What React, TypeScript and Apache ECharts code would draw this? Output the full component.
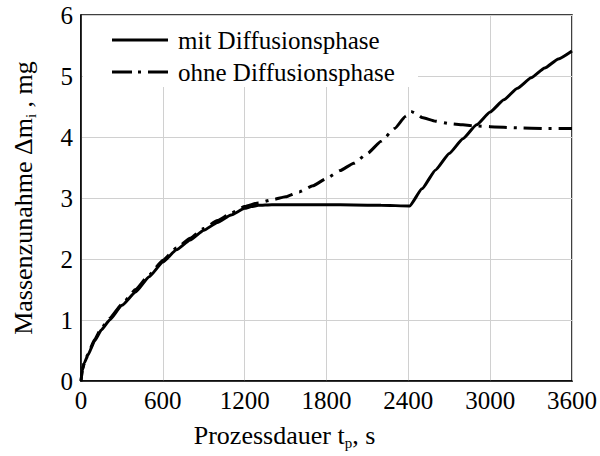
import React, { useEffect, useRef } from "react";
import * as echarts from "echarts";

const xTicks = [0, 600, 1200, 1800, 2400, 3000, 3600];
const yTicks = [0, 1, 2, 3, 4, 5, 6];

const seriesNames = ["mit Diffusionsphase", "ohne Diffusionsphase"];

const timeMit = [0, 10, 25, 50, 100, 150, 210, 300, 400, 500, 600, 700, 800, 900, 1000, 1100, 1200, 1250, 1300, 1400, 1600, 1800, 2000, 2200, 2410, 2500, 2600, 2700, 2800, 2900, 3000, 3100, 3200, 3300, 3400, 3500, 3600];
const massMit = [0, 0.18, 0.3, 0.42, 0.66, 0.84, 1.0, 1.24, 1.46, 1.71, 1.95, 2.15, 2.31, 2.47, 2.6, 2.72, 2.83, 2.86, 2.88, 2.89, 2.89, 2.89, 2.885, 2.88, 2.87, 3.15, 3.46, 3.73, 3.97, 4.2, 4.41, 4.61, 4.8, 4.97, 5.13, 5.28, 5.41];

const timeOhne = [0, 10, 25, 50, 100, 150, 210, 300, 400, 500, 600, 700, 800, 900, 1000, 1100, 1200, 1300, 1400, 1500, 1600, 1700, 1800, 1900, 2000, 2100, 2200, 2300, 2380, 2420, 2460, 2500, 2600, 2700, 2800, 2900, 3000, 3200, 3400, 3600];
const massOhne = [0, 0.19, 0.31, 0.44, 0.68, 0.87, 1.03, 1.26, 1.5, 1.74, 1.98, 2.18, 2.34, 2.5, 2.63, 2.75, 2.86, 2.92, 2.97, 3.02, 3.1, 3.2, 3.32, 3.45, 3.57, 3.73, 3.93, 4.14, 4.34, 4.42, 4.38, 4.32, 4.26, 4.22, 4.2, 4.18, 4.17, 4.15, 4.14, 4.14];

const FONT = "Liberation Serif";
const DASH = [18, 7, 3, 7];

const zip = (xs: number[], ys: number[]) => xs.map((x, i) => [x, ys[i]]);

export default function App() {
  const ref = useRef<HTMLDivElement>(null);
  useEffect(() => {
    if (!ref.current) return;
    const chart = echarts.init(ref.current, undefined, { renderer: "svg" });
    const nameStyle = {
      fontFamily: FONT,
      fontSize: 26,
      lineHeight: 30,
      color: "#000",
      rich: {
        m: { fontFamily: FONT, fontSize: 26, lineHeight: 30, color: "#000" },
        sub: { fontFamily: FONT, fontSize: 15, lineHeight: 12, color: "#000", verticalAlign: "bottom" },
      },
    };
    chart.setOption({
      animation: false,
      backgroundColor: "#fff",
      textStyle: { fontFamily: FONT },
      grid: {
        left: 74,
        right: 26,
        top: 15,
        bottom: 75,
        show: true,
        borderColor: "#000",
        borderWidth: 1.5,
        backgroundColor: "transparent",
      },
      graphic: [
        {
          type: "group",
          z: 10,
          children: [
            { type: "rect", shape: { x: 83, y: 16, width: 335, height: 71 }, style: { fill: "#fff" }, z: 10 },
            { type: "line", shape: { x1: 112, y1: 40, x2: 168, y2: 40 }, style: { stroke: "#000", lineWidth: 3 }, z: 11 },
            { type: "text", x: 178, y: 40, style: { text: seriesNames[0], fontFamily: FONT, fontSize: 25, fill: "#000", verticalAlign: "middle" }, z: 11 },
            { type: "line", shape: { x1: 112, y1: 72, x2: 168, y2: 72 }, style: { stroke: "#000", lineWidth: 3, lineDash: [20, 6, 3, 7] }, z: 11 },
            { type: "text", x: 178, y: 72, style: { text: seriesNames[1], fontFamily: FONT, fontSize: 25, fill: "#000", verticalAlign: "middle" }, z: 11 },
          ],
        },
      ],
      xAxis: {
        type: "value",
        min: xTicks[0],
        max: xTicks[xTicks.length - 1],
        interval: 600,
        axisLine: { show: true, lineStyle: { color: "#000", width: 1.5 } },
        axisTick: { show: false },
        splitLine: { show: true, lineStyle: { color: "#d0d0d0", width: 1 } },
        axisLabel: { fontFamily: FONT, fontSize: 25, color: "#000", margin: 7, formatter: (v: number) => String(v) },
        name: "{m|Prozessdauer t}{sub|p}{m|, s}",
        nameLocation: "middle",
        nameGap: 39,
        nameTextStyle: { ...nameStyle, padding: [0, 84, 0, 0] },
      },
      yAxis: {
        type: "value",
        min: yTicks[0],
        max: yTicks[yTicks.length - 1],
        interval: 1,
        axisLine: { show: true, lineStyle: { color: "#000", width: 1.5 } },
        axisTick: { show: false },
        splitLine: { show: true, lineStyle: { color: "#d0d0d0", width: 1 } },
        axisLabel: { fontFamily: FONT, fontSize: 25, color: "#000", margin: 8, formatter: (v: number) => String(v) },
        name: "{m|Massenzunahme Δm}{sub|i}{m| , mg}",
        nameLocation: "middle",
        nameGap: 43,
        nameTextStyle: nameStyle,
      },
      series: [
        {
          name: seriesNames[0],
          type: "line",
          data: zip(timeMit, massMit),
          symbol: "none",
          showSymbol: false,
          smooth: 0.15,
          smoothMonotone: "x",
          lineStyle: { color: "#000", width: 3, type: "solid" },
          itemStyle: { color: "#000" },
          z: 5,
        },
        {
          name: seriesNames[1],
          type: "line",
          data: zip(timeOhne, massOhne),
          symbol: "none",
          showSymbol: false,
          smooth: 0.15,
          smoothMonotone: "x",
          lineStyle: { color: "#000", width: 3, type: DASH },
          itemStyle: { color: "#000" },
          z: 4,
        },
      ],
    });
    return () => chart.dispose();
  }, []);
  return (
    <div
      ref={ref}
      style={{ position: "fixed", left: 0, top: 0, width: 600, height: 456, background: "#fff" }}
    />
  );
}
